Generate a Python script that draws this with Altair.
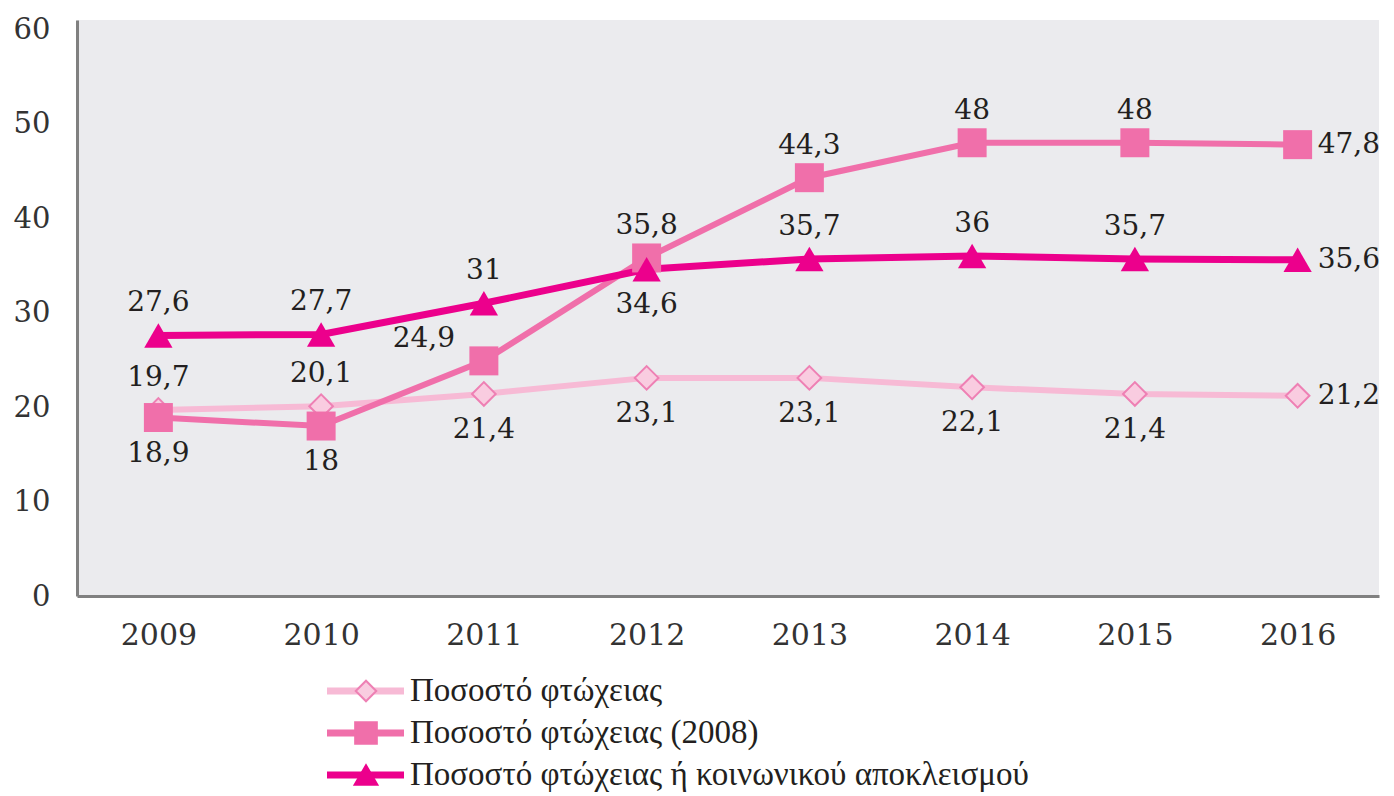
import altair as alt
import pandas as pd

years = ["2009", "2010", "2011", "2012", "2013", "2014", "2015", "2016"]
series_names = [
    "Ποσοστό φτώχειας",
    "Ποσοστό φτώχειας (2008)",
    "Ποσοστό φτώχειας ή κοινωνικού αποκλεισμού",
]
poverty = [19.7, 20.1, 21.4, 23.1, 23.1, 22.1, 21.4, 21.2]
poverty_2008 = [18.9, 18.0, 24.9, 35.8, 44.3, 48.0, 48.0, 47.8]
arope = [27.6, 27.7, 31.0, 34.6, 35.7, 36.0, 35.7, 35.6]

# label placement keyword for each point
place_poverty = ["above", "above", "below", "below", "below", "below", "below", "right"]
place_2008 = ["below", "below", "left", "above", "above", "above", "above", "right"]
place_arope = ["above", "above", "above", "below", "above", "above", "above", "right"]

line_colors = ["#F7BAD5", "#F06FAA", "#EC008C"]
marker_fill = ["#F9CCE0", "#F06FAA", "#EC008C"]
marker_stroke = ["#EE80B4", "#F06FAA", "#EC008C"]
shapes = ["diamond", "square", "triangle-up"]
marker_sizes = [560, 840, 800]
line_widths = [6, 6, 7]

rows = []
for name, vals, places in zip(series_names, [poverty, poverty_2008, arope],
                              [place_poverty, place_2008, place_arope]):
    for yr, v, p in zip(years, vals, places):
        rows.append({"series": name, "year": yr, "value": v, "place": p,
                     "label": f"{v:g}".replace(".", ",")})
df = pd.DataFrame(rows)

SERIF = "DejaVu Serif"
x_enc = alt.X("year:O", scale=alt.Scale(type="point", padding=0.5), title=None,
              axis=alt.Axis(labelFont=SERIF, labelFontSize=30, labelColor="#333333",
                            labelAngle=0, ticks=False, labelPadding=24,
                            domainColor="#808080", domainWidth=3, grid=False))
y_enc = alt.Y("value:Q", scale=alt.Scale(domain=[0, 61], nice=False), title=None,
              axis=alt.Axis(values=[0, 10, 20, 30, 40, 50, 60], labelFont=SERIF,
                            labelFontSize=29, labelColor="#333333", ticks=False,
                            labelPadding=27, domainColor="#808080", domainWidth=3,
                            grid=False))

layers = []
for i, name in enumerate(series_names):
    base = alt.Chart(df).transform_filter(alt.datum.series == name)
    layers.append(base.mark_line(color=line_colors[i], strokeWidth=line_widths[i]).encode(x=x_enc, y=y_enc))
for i, name in enumerate(series_names):
    base = alt.Chart(df).transform_filter(alt.datum.series == name)
    layers.append(base.mark_point(shape=shapes[i], filled=True, fill=marker_fill[i],
                                  stroke=marker_stroke[i],
                                  strokeWidth=2 if i == 0 else 0,
                                  size=marker_sizes[i], opacity=1).encode(x=x_enc, y=y_enc))

placements = {
    "above": dict(dx=0, dy=-32, align="center"),
    "below": dict(dx=0, dy=36, align="center"),
    "right": dict(dx=20, dy=0, align="left"),
    "left": dict(dx=-60, dy=-22, align="center"),
}
for p, opts in placements.items():
    layers.append(
        alt.Chart(df).transform_filter(alt.datum.place == p)
        .mark_text(font=SERIF, fontSize=28, color="#231F20", baseline="middle", **opts)
        .encode(x=x_enc, y=y_enc, text="label:N")
    )

main = alt.layer(*layers).properties(
    width=1302, height=576,
    view=alt.ViewBackground(fill="#EBEBEE", strokeWidth=0),
)

legend_df = pd.DataFrame({"series": series_names})
ly = alt.Y("series:N", sort=series_names, axis=None, title=None,
           scale=alt.Scale(type="point", padding=0.5, domain=series_names))
leg_rule = alt.Chart(legend_df).mark_rule(strokeWidth=7).encode(
    y=ly, x=alt.value(250), x2=alt.value(327),
    color=alt.Color("series:N", scale=alt.Scale(domain=series_names, range=line_colors), legend=None),
)
leg_pts = alt.Chart(legend_df).mark_point(filled=True, opacity=1).encode(
    y=ly, x=alt.value(289),
    shape=alt.Shape("series:N", scale=alt.Scale(domain=series_names, range=shapes), legend=None),
    fill=alt.Fill("series:N", scale=alt.Scale(domain=series_names, range=marker_fill), legend=None),
    stroke=alt.Stroke("series:N", scale=alt.Scale(domain=series_names, range=marker_stroke), legend=None),
    size=alt.Size("series:N", scale=alt.Scale(domain=series_names, range=[420, 520, 480]), legend=None),
)
leg_txt = alt.Chart(legend_df).mark_text(
    align="left", baseline="middle", font="Liberation Sans Narrow", fontSize=33, color="#231F20"
).encode(y=ly, x=alt.value(333), text="series:N")
legend = alt.layer(leg_rule, leg_pts, leg_txt).properties(width=1000, height=126)

chart = alt.vconcat(main, legend, spacing=20).properties(
    padding={"left": 5, "top": 7, "right": 5, "bottom": 5},
    background="white",
).configure_view(strokeWidth=0)

chart.save("out.html", embed_options={"renderer": "svg", "actions": False})
